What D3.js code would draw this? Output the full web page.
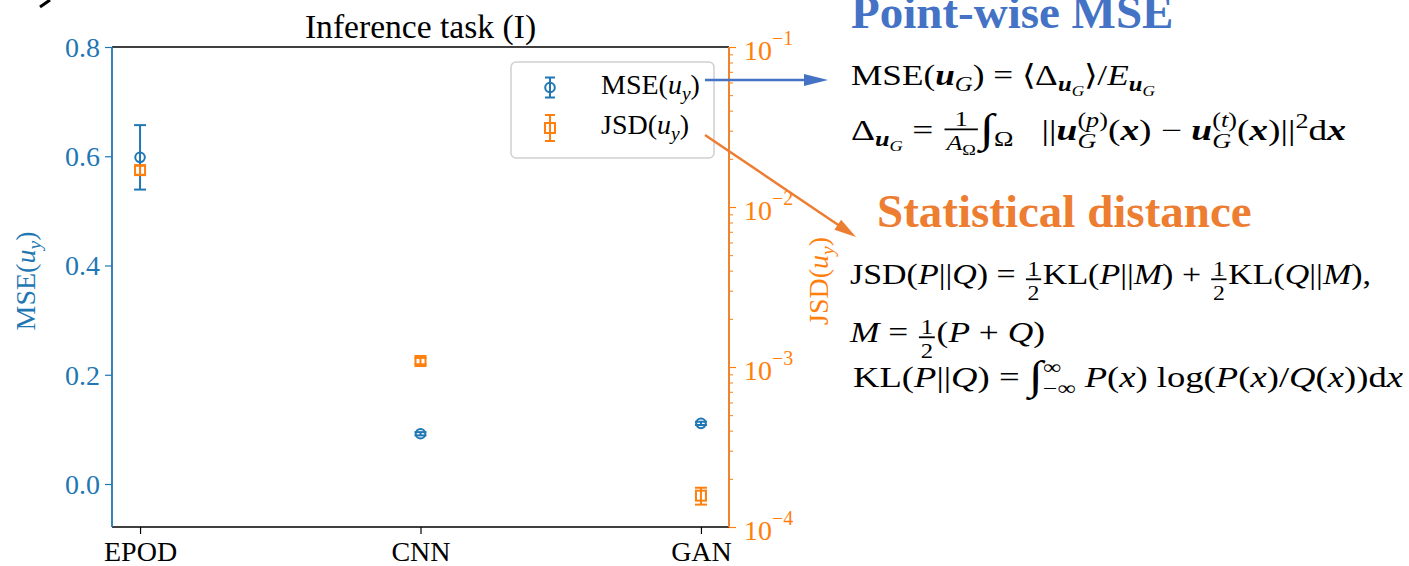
<!DOCTYPE html>
<html>
<head>
<meta charset="utf-8">
<style>
  body { margin: 0; background: #fff; }
  svg { display: block; }
  text { font-family: "Liberation Serif", "Times New Roman", serif; }
</style>
</head>
<body>
<script src="https://cdn.jsdelivr.net/npm/d3@7/dist/d3.min.js"></script>
<script>
// ---- data ----
var categories = ["EPOD", "CNN", "GAN"];
var mseValues = [0.598, 0.092, 0.111];
var mseErrors = [0.059, 0.003, 0.003];
var jsdValues = [0.0170, 0.00109, 0.000157];
var jsdErrors = [0.0011, 0.00005, 0.000019];
var mseTicks = [0.0, 0.2, 0.4, 0.6, 0.8];
var jsdTicks = [1e-4, 1e-3, 1e-2, 1e-1];
var jsdTickExp = ["\u22124", "\u22123", "\u22122", "\u22121"];

var blue = "#1f77b4", orange = "#ff7f0e";
var pptBlue = "#4472c4", pptOrange = "#ed7d31";

var W = 1409, H = 566;
var pL = 112, pR = 729, pT = 47, pB = 527;

var svg = d3.select("body").append("svg")
  .attr("width", W).attr("height", H);

var x = d3.scaleLinear().domain([-0.1, 2.1]).range([pL, pR]);
var yL = d3.scaleLinear().domain([-0.0787, 0.8]).range([pB, pT]);
var yR = d3.scaleLog().domain([1e-4, 1e-1]).range([pB, pT]);

// stray stroke in the top-left corner (cut off piece)
svg.append("path").attr("d", "M40,7 L50,0").attr("stroke", "#000").attr("stroke-width", 3).attr("fill", "none");

// ---- axes ----
var gL = svg.append("g").attr("transform", "translate(" + pL + ",0)")
  .call(d3.axisLeft(yL).tickValues(mseTicks).tickFormat(d3.format(".1f")).tickSize(7).tickSizeOuter(0).tickPadding(5));
gL.select(".domain").remove();
gL.selectAll("line").attr("stroke", blue).attr("stroke-width", 1.2);
gL.selectAll("text").attr("fill", blue).attr("font-size", 28).attr("dy", "0.33em");

var minor = [];
[1e-4, 1e-3, 1e-2].forEach(function (d) { for (var k = 2; k <= 9; k++) minor.push(d * k); });
var gRm = svg.append("g").attr("transform", "translate(" + pR + ",0)")
  .call(d3.axisRight(yR).tickValues(minor).tickFormat("").tickSize(4).tickSizeOuter(0));
gRm.select(".domain").remove();
gRm.selectAll("line").attr("stroke", orange).attr("stroke-width", 1);

var gR = svg.append("g").attr("transform", "translate(" + pR + ",0)")
  .call(d3.axisRight(yR).tickValues(jsdTicks).tickFormat("").tickSize(7).tickSizeOuter(0));
gR.select(".domain").remove();
gR.selectAll("line").attr("stroke", orange).attr("stroke-width", 1.2);
gR.selectAll(".tick").each(function (d, i) {
  var t = d3.select(this).select("text")
    .attr("x", 15).attr("dy", null).attr("y", 12).attr("fill", orange)
    .attr("font-size", 28).attr("text-anchor", "start").text("10");
  t.append("tspan").attr("dy", -15).attr("font-size", 20).text(jsdTickExp[i]);
});

var gX = svg.append("g").attr("transform", "translate(0," + pB + ")")
  .call(d3.axisBottom(x).tickValues([0, 1, 2]).tickFormat(function (d) { return categories[d]; })
    .tickSize(7).tickSizeOuter(0).tickPadding(6));
gX.select(".domain").remove();
gX.selectAll("line").attr("stroke", "#000").attr("stroke-width", 1.2);
gX.selectAll("text").attr("fill", "#000").attr("font-size", 28).attr("dy", "0.75em");

// spines
svg.append("line").attr("x1", pL).attr("x2", pR).attr("y1", pT).attr("y2", pT).attr("stroke", "#000").attr("stroke-width", 1.5);
svg.append("line").attr("x1", pL).attr("x2", pR).attr("y1", pB).attr("y2", pB).attr("stroke", "#000").attr("stroke-width", 1.5);
svg.append("line").attr("x1", pL).attr("x2", pL).attr("y1", pT).attr("y2", pB).attr("stroke", blue).attr("stroke-width", 1.8);
svg.append("line").attr("x1", pR).attr("x2", pR).attr("y1", pT).attr("y2", pB).attr("stroke", "#ee8330").attr("stroke-width", 2);

// title
svg.append("text").attr("x", (pL + pR) / 2).attr("y", 38).attr("text-anchor", "middle")
  .attr("font-size", 33.6).text("Inference task (I)");

// label with italic u and subscript y
function subLabel(sel, prefix, fs) {
  sel.text(prefix + "(");
  sel.append("tspan").attr("font-style", "italic").text("u");
  sel.append("tspan").attr("font-style", "italic").attr("font-size", fs * 0.7).attr("dy", fs * 0.22).text("y");
  sel.append("tspan").attr("dy", -fs * 0.22).text(")");
}
subLabel(svg.append("text").attr("transform", "translate(35,281) rotate(-90)")
  .attr("text-anchor", "middle").attr("font-size", 28).attr("fill", blue), "MSE", 28);
subLabel(svg.append("text").attr("transform", "translate(828,281) rotate(-90)")
  .attr("text-anchor", "middle").attr("font-size", 28).attr("fill", orange), "JSD", 28);

// ---- error bars ----
function errorbars(vals, errs, yScale, color, marker) {
  var g = svg.append("g").attr("stroke", color).attr("stroke-width", 2).attr("fill", "none");
  vals.forEach(function (v, i) {
    var cx = x(i), y0 = yScale(v - errs[i]), y1 = yScale(v + errs[i]), cy = yScale(v);
    g.append("line").attr("x1", cx).attr("x2", cx).attr("y1", y0).attr("y2", y1);
    g.append("line").attr("x1", cx - 6).attr("x2", cx + 6).attr("y1", y0).attr("y2", y0);
    g.append("line").attr("x1", cx - 6).attr("x2", cx + 6).attr("y1", y1).attr("y2", y1);
    marker(g, cx, cy);
  });
}
function circleMarker(g, cx, cy) { g.append("circle").attr("cx", cx).attr("cy", cy).attr("r", 4.8); }
function squareMarker(g, cx, cy) { g.append("rect").attr("x", cx - 5).attr("y", cy - 5).attr("width", 10).attr("height", 10); }

errorbars(mseValues, mseErrors, yL, blue, circleMarker);
errorbars(jsdValues, jsdErrors, yR, orange, squareMarker);

// ---- legend ----
var lg = svg.append("g");
lg.append("rect").attr("x", 511).attr("y", 62).attr("width", 203).attr("height", 96).attr("rx", 5)
  .attr("fill", "#fff").attr("fill-opacity", 0.8).attr("stroke", "#d0d0d0").attr("stroke-width", 1.5);
function legendItem(cy, half, color, marker, label) {
  var g = lg.append("g").attr("stroke", color).attr("stroke-width", 2).attr("fill", "none");
  g.append("line").attr("x1", 550).attr("x2", 550).attr("y1", cy - half).attr("y2", cy + half);
  g.append("line").attr("x1", 545).attr("x2", 555).attr("y1", cy - half).attr("y2", cy - half);
  g.append("line").attr("x1", 545).attr("x2", 555).attr("y1", cy + half).attr("y2", cy + half);
  marker(g, 550, cy);
  subLabel(lg.append("text").attr("x", 601).attr("y", cy + 6).attr("font-size", 28), label, 28);
}
legendItem(87.5, 10, blue, circleMarker, "MSE");
legendItem(128, 13, orange, squareMarker, "JSD");

// ---- annotation arrows ----
svg.append("line").attr("x1", 705).attr("y1", 80).attr("x2", 806).attr("y2", 80).attr("stroke", pptBlue).attr("stroke-width", 2.5);
svg.append("path").attr("d", "M828,80 L804,74 L804,86 Z").attr("fill", pptBlue);
(function () {
  var x0 = 705, y0 = 135, x1 = 856, y1 = 237;
  var a = Math.atan2(y1 - y0, x1 - x0), L = 22, hw = 6;
  var bx = x1 - L * Math.cos(a), by = y1 - L * Math.sin(a);
  svg.append("line").attr("x1", x0).attr("y1", y0).attr("x2", bx + 2 * Math.cos(a)).attr("y2", by + 2 * Math.sin(a))
    .attr("stroke", pptOrange).attr("stroke-width", 2.5);
  var px = -Math.sin(a) * hw, py = Math.cos(a) * hw;
  svg.append("path").attr("d", "M" + x1 + "," + y1 + " L" + (bx + px) + "," + (by + py) + " L" + (bx - px) + "," + (by - py) + " Z")
    .attr("fill", pptOrange);
})();

// ---- side text ----
svg.append("text").attr("x", 851).attr("y", 28).attr("font-size", 47).attr("font-weight", "bold")
  .attr("fill", pptBlue).text("Point-wise MSE");
svg.append("text").attr("x", 877).attr("y", 227).attr("font-size", 47).attr("font-weight", "bold")
  .attr("fill", pptOrange).text("Statistical distance");

function renderMath(g, tokens, x0, y, fs) {
  var cx = x0;
  tokens.forEach(function (tok) {
    if (typeof tok === "string") tok = { t: tok };
    if (tok.t !== undefined) {
      var f = fs * (tok.s || 1);
      var t = g.append("text").attr("x", cx).attr("y", y + (tok.dy || 0) * fs).attr("font-size", f)
        .attr("font-style", tok.i ? "italic" : null).attr("font-weight", tok.b ? "bold" : null)
        .text(tok.t.replace(/ /g, "\u00a0"));
      cx += t.node().getComputedTextLength();
    } else if (tok.sub) {
      cx = renderMath(g, tok.sub, cx, y + 0.22 * fs, fs * 0.7);
    } else if (tok.sup) {
      cx = renderMath(g, tok.sup, cx, y - 0.4 * fs, fs * 0.7);
    } else if (tok.ss) {
      var a = renderMath(g, tok.ss[0], cx, y + 0.28 * fs, fs * 0.7);
      var b = renderMath(g, tok.ss[1], cx, y - 0.45 * fs, fs * 0.7);
      cx = Math.max(a, b);
    } else if (tok.frac) {
      var small = fs * 0.7;
      var gn = g.append("g"), gd = g.append("g");
      var wn = renderMath(gn, tok.frac[0], 0, 0, small);
      var wd = renderMath(gd, tok.frac[1], 0, 0, small);
      var w = Math.max(wn, wd) + fs * 0.2;
      var barY = y - 0.3 * fs + (tok.dy || 0);
      gn.attr("transform", "translate(" + (cx + (w - wn) / 2) + "," + (barY - 0.12 * fs) + ")");
      gd.attr("transform", "translate(" + (cx + (w - wd) / 2) + "," + (barY + 0.72 * fs) + ")");
      g.append("line").attr("x1", cx + fs * 0.05).attr("x2", cx + w - fs * 0.05)
        .attr("y1", barY).attr("y2", barY).attr("stroke", "#000").attr("stroke-width", 1.8);
      cx += w;
    }
  });
  return cx;
}
function mathLine(tokens, x0, y, fs, endX) {
  var g = svg.append("g").attr("fill", "#000");
  var w = renderMath(g, tokens, x0, y, fs) - x0;
  var s = (endX - x0) / w;
  g.attr("transform", "translate(" + x0 + ",0) scale(" + s + ",1) translate(" + (-x0) + ",0)");
}

var ub = { t: "u", b: 1, i: 1 }, xb = { t: "x", b: 1, i: 1 }, G = { t: "G", i: 1 };
var P = { t: "P", i: 1 }, Q = { t: "Q", i: 1 }, M = { t: "M", i: 1 }, xi = { t: "x", i: 1 };
var half = { frac: [["1"], ["2"]], dy: 4 };
var integ = { t: "\u222b", s: 1.4, dy: 0.08 };
var nn = "||";
var fsM = 29;

mathLine(["MSE(", ub, { sub: [G] }, ") = \u27e8\u0394", { sub: [ub, { sub: [G] }] }, "\u27e9/", { t: "E", i: 1 },
  { sub: [ub, { sub: [G] }] }], 851, 85, fsM, 1155);
mathLine(["\u0394", { sub: [ub, { sub: [G] }] }, " = ", { frac: [["1"], [{ t: "A", i: 1 }, { sub: ["\u03a9"] }]], dy: -2 },
  integ, { sub: ["\u03a9"] }, "   " + nn, ub, { ss: [[G], ["(", { t: "p", i: 1 }, ")"]] }, "(", xb, ") \u2212 ",
  ub, { ss: [[G], ["(", { t: "t", i: 1 }, ")"]] }, "(", xb, ")" + nn, { sup: ["2"] }, "d", xb], 851, 140, fsM, 1346);
mathLine(["JSD(", P, nn, Q, ") = ", half, "KL(", P, nn, M, ") + ", half, "KL(", Q, nn, M, "),"],
  850, 284, fsM, 1371);
mathLine([M, " = ", half, "(", P, " + ", Q, ")"], 850, 342, fsM, 1045);
mathLine(["KL(", P, nn, Q, ") = ", integ, { ss: [["\u2212\u221e"], ["\u221e"]] }, " ", P, "(", xi, ") log(", P, "(", xi,
  ")/", Q, "(", xi, "))d", xi], 853, 387, fsM, 1403);
</script>
</body>
</html>
